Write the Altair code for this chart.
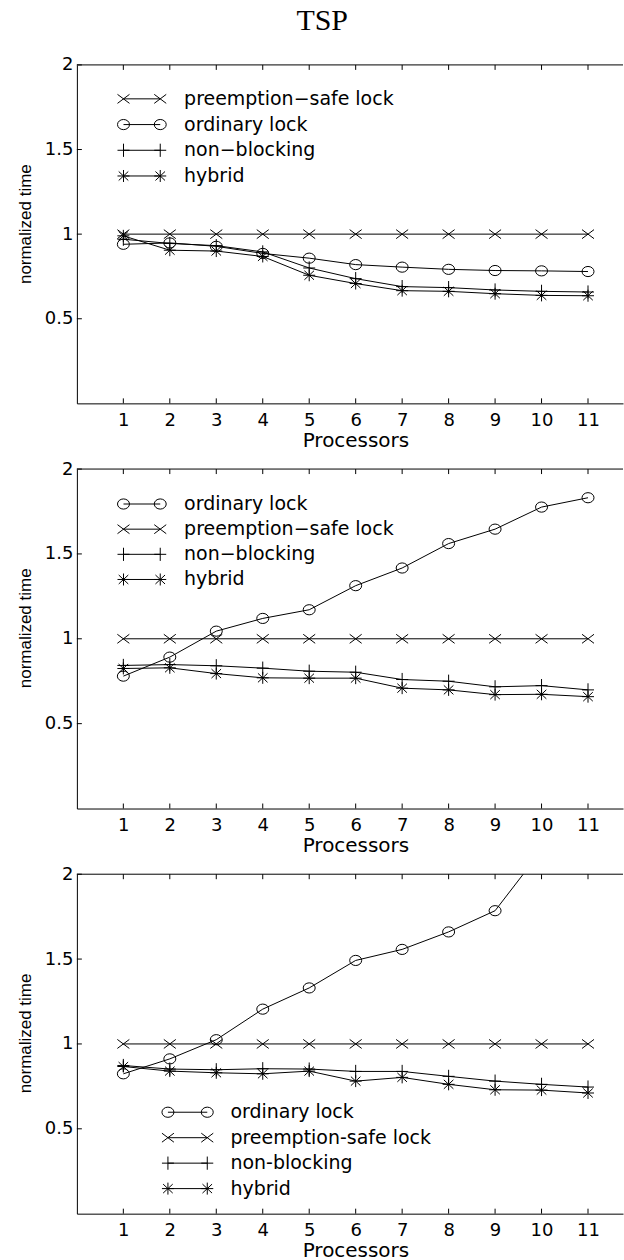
import altair as alt
import pandas as pd

# ---------------- data ----------------
processors = [1, 2, 3, 4, 5, 6, 7, 8, 9, 10, 11]
y_ticks = [0.5, 1, 1.5, 2]

series_keys = ["preempt", "ordinary", "nonblock", "hybrid"]

# Panel 1
p1_preempt = [1.0, 1.0, 1.0, 1.0, 1.0, 1.0, 1.0, 1.0, 1.0, 1.0, 1.0]
p1_ordinary = [0.94, 0.948, 0.928, 0.886, 0.858, 0.82, 0.805, 0.792, 0.785, 0.783, 0.779]
p1_nonblock = [0.97, 0.945, 0.932, 0.895, 0.80, 0.737, 0.69, 0.684, 0.67, 0.662, 0.658]
p1_hybrid = [0.99, 0.905, 0.90, 0.868, 0.757, 0.708, 0.666, 0.662, 0.648, 0.638, 0.636]

# Panel 2
p2_ordinary = [0.78, 0.892, 1.045, 1.12, 1.171, 1.313, 1.417, 1.561, 1.646, 1.776, 1.831]
p2_preempt = [1.0, 1.0, 1.0, 1.0, 1.0, 1.0, 1.0, 1.0, 1.0, 1.0, 1.0]
p2_nonblock = [0.843, 0.848, 0.841, 0.827, 0.809, 0.803, 0.76, 0.75, 0.717, 0.724, 0.699]
p2_hybrid = [0.825, 0.829, 0.795, 0.77, 0.768, 0.768, 0.709, 0.699, 0.671, 0.673, 0.659]

# Panel 3
p3_ordinary = [0.824, 0.912, 1.025, 1.205, 1.33, 1.492, 1.557, 1.66, 1.785, 2.14, 2.4]
p3_preempt = [1.0, 1.0, 1.0, 1.0, 1.0, 1.0, 1.0, 1.0, 1.0, 1.0, 1.0]
p3_nonblock = [0.873, 0.852, 0.848, 0.854, 0.852, 0.838, 0.838, 0.809, 0.781, 0.762, 0.746]
p3_hybrid = [0.867, 0.84, 0.83, 0.824, 0.84, 0.781, 0.803, 0.762, 0.73, 0.728, 0.711]

# legend entries (order as in each panel)
leg1_keys = ["preempt", "ordinary", "nonblock", "hybrid"]
leg1_labels = ["preemption\u2212safe lock", "ordinary lock", "non\u2212blocking", "hybrid"]
leg2_keys = ["ordinary", "preempt", "nonblock", "hybrid"]
leg2_labels = ["ordinary lock", "preemption\u2212safe lock", "non\u2212blocking", "hybrid"]
leg3_keys = ["ordinary", "preempt", "nonblock", "hybrid"]
leg3_labels = ["ordinary lock", "preemption-safe lock", "non-blocking", "hybrid"]

# ---------------- styling ----------------
W = 547
XMAX = 11.753
FONT = "DejaVu Sans"

marker_paths = [
    "M-1,-0.75L1,0.75M-1,0.75L1,-0.75",                       # x
    "M-1,0A1,0.85,0,1,1,1,0A1,0.85,0,1,1,-1,0Z",               # o (ellipse)
    "M-1,0L1,0M0,-1.1L0,1.1",                                  # +
    "M-1,0L1,0M0,-1L0,1M-0.8,-0.75L0.8,0.75M-0.8,0.75L0.8,-0.75",  # *
]
shape_scale = alt.Scale(domain=series_keys, range=marker_paths)


def panel(vals, leg_keys, leg_labels, H, leg_top, leg_step, mx1, mx2, tx):
    rows = []
    for key in series_keys:
        for xv, yv in zip(processors, vals[key]):
            rows.append({"x": xv, "v": yv, "series": key})
    df = pd.DataFrame(rows)

    x_enc = alt.X(
        "x:Q",
        scale=alt.Scale(domain=[0, XMAX], nice=False, zero=False),
        axis=alt.Axis(
            values=processors, title="Processors", ticks=False, grid=False,
            labelFont=FONT, labelFontSize=18, labelPadding=8, labelColor="black",
            domainColor="black", domainWidth=1,
            titleFont=FONT, titleFontSize=20, titleFontWeight="normal", titleColor="black",
            titleX=279, titleY=43, titleBaseline="alphabetic",
        ),
    )
    y_enc = alt.Y(
        "v:Q",
        scale=alt.Scale(domain=[0, 2], nice=False, zero=False),
        axis=alt.Axis(
            values=y_ticks, format="~g", title="normalized time", ticks=False, grid=False,
            labelFont=FONT, labelFontSize=18, labelPadding=4, labelColor="black",
            domainColor="black", domainWidth=1,
            titleFont="Liberation Sans", titleFontSize=17, titleFontWeight="normal",
            titleColor="black", titleX=-46, titleY=159, titleBaseline="alphabetic",
            titleAlign="center", titleAngle=270,
        ),
    )
    shape_enc = alt.Shape("series:N", scale=shape_scale, legend=None)

    base = alt.Chart(df)
    lines = base.mark_line(color="black", strokeWidth=1, clip=True).encode(
        x=x_enc, y=y_enc, detail="series:N"
    )
    pts = base.mark_point(filled=False, color="black", size=144, strokeWidth=1,
                          opacity=1, clip=True).encode(x=x_enc, y=y_enc, shape=shape_enc)

    tx_df = pd.DataFrame({"x": processors})
    ty_df = pd.DataFrame({"v": y_ticks})
    top_ticks = alt.Chart(tx_df).mark_rule(color="black", strokeWidth=1).encode(
        x=x_enc, y=alt.value(0), y2=alt.value(5))
    bot_ticks = alt.Chart(tx_df).mark_rule(color="black", strokeWidth=1).encode(
        x=x_enc, y=alt.value(H), y2=alt.value(H - 5))
    left_ticks = alt.Chart(ty_df).mark_rule(color="black", strokeWidth=1).encode(
        y=y_enc, x=alt.value(0), x2=alt.value(5))
    top_border = alt.Chart(pd.DataFrame({"a": [0]})).mark_rule(color="black", strokeWidth=1).encode(
        x=alt.value(0), x2=alt.value(W), y=alt.value(0))

    leg_df = pd.DataFrame({"series": leg_keys, "label": leg_labels, "row": list(range(len(leg_keys)))})
    lbase = alt.Chart(leg_df).transform_calculate(ly=f"{leg_top} + datum.row * {leg_step}")
    ly = alt.Y("ly:Q", scale=None, axis=None)
    leg_line = lbase.mark_rule(color="black", strokeWidth=1).encode(
        x=alt.value(mx1), x2=alt.value(mx2), y=ly)
    leg_m1 = lbase.mark_point(filled=False, color="black", size=144, strokeWidth=1, opacity=1).encode(
        x=alt.value(mx1), y=ly, shape=shape_enc)
    leg_m2 = lbase.mark_point(filled=False, color="black", size=144, strokeWidth=1, opacity=1).encode(
        x=alt.value(mx2), y=ly, shape=shape_enc)
    leg_txt = lbase.mark_text(align="left", baseline="middle", font=FONT, fontSize=19,
                              color="black").encode(x=alt.value(tx), y=ly, text="label:N")

    return alt.layer(lines, pts, top_border, top_ticks, bot_ticks, left_ticks,
                     leg_line, leg_m1, leg_m2, leg_txt).properties(width=W, height=H)


c1 = panel({"preempt": p1_preempt, "ordinary": p1_ordinary, "nonblock": p1_nonblock, "hybrid": p1_hybrid},
           leg1_keys, leg1_labels, 339, 34, 25.75, 46.7, 83.5, 107.4)
c2 = panel({"preempt": p2_preempt, "ordinary": p2_ordinary, "nonblock": p2_nonblock, "hybrid": p2_hybrid},
           leg2_keys, leg2_labels, 340, 35, 25.2, 46.7, 83.5, 107.4)
c3 = panel({"preempt": p3_preempt, "ordinary": p3_ordinary, "nonblock": p3_nonblock, "hybrid": p3_hybrid},
           leg3_keys, leg3_labels, 340, 238.4, 25.5, 91.2, 130.6, 153.8)

chart = alt.vconcat(
    c1, c2, c3, spacing=65.8, bounds="flush",
    title=alt.TitleParams(text="TSP", font="Liberation Serif", fontSize=30, fontWeight="normal",
                          color="black", anchor="middle", frame="bounds", dx=2, offset=20),
).properties(
    padding={"left": 17, "top": 5, "right": 0, "bottom": 2},
    background="white",
).configure_view(stroke=None)

chart.save("out.html", embed_options={"renderer": "svg", "actions": False})
